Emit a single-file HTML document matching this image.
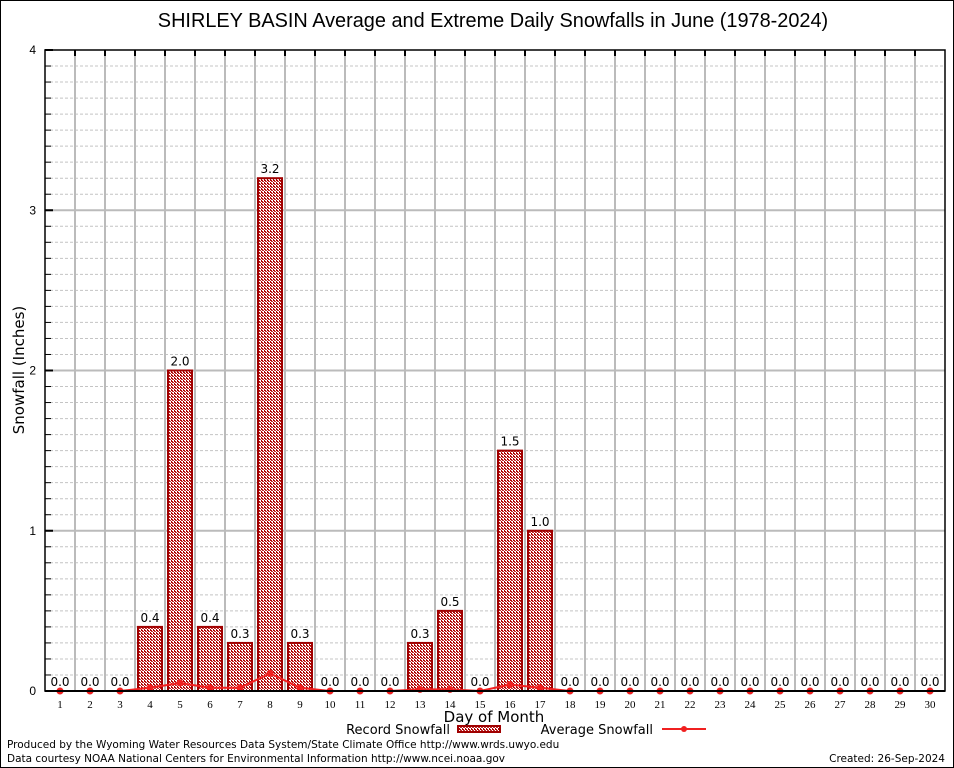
<!DOCTYPE html>
<html><head><meta charset="utf-8"><style>
body{margin:0;background:#fff}
svg{display:block;font-family:"DejaVu Sans","Liberation Sans",sans-serif}
</style></head><body>
<svg id="chart" width="954" height="768" viewBox="0 0 954 768">
<defs>
<pattern id="chk" width="3" height="3" patternUnits="userSpaceOnUse">
<rect width="3" height="3" fill="#fff"/>
<rect width="2" height="1" fill="#b00000"/><rect x="1" y="1" width="2" height="1" fill="#c03030"/><rect y="2" width="1" height="1" fill="#b00000"/>
</pattern>
</defs>
<rect x="0.5" y="0.5" width="953" height="767" fill="#fff" stroke="#000"/>
<text x="493" y="27" font-size="19.9" text-anchor="middle" font-family="Liberation Sans, sans-serif">SHIRLEY BASIN Average and Extreme Daily Snowfalls in June (1978-2024)</text>
<g id="grid"></g>
<g id="bars"></g>
<g id="avg"></g>
<g id="axes"></g>
<text x="24" y="370" font-size="15" text-anchor="middle" transform="rotate(-90 24 370)">Snowfall (Inches)</text>
<text x="494" y="722" font-size="15" text-anchor="middle">Day of Month</text>
<g>
<text x="450" y="734" font-size="13" text-anchor="end">Record Snowfall</text>
<rect x="458" y="726" width="42" height="6" fill="url(#chk)" stroke="#a00000" stroke-width="2"/>
</g>
<g>
<text x="653" y="734" font-size="13" text-anchor="end">Average Snowfall</text>
<line x1="662" y1="729" x2="706" y2="729" stroke="#f02020" stroke-width="2"/>
<circle cx="684" cy="729" r="3" fill="#f02020"/>
</g>
<text x="7" y="748" font-size="10.5">Produced by the Wyoming Water Resources Data System/State Climate Office http://www.wrds.uwyo.edu</text>
<text x="7" y="762" font-size="10.5">Data courtesy NOAA National Centers for Environmental Information http://www.ncei.noaa.gov</text>
<text x="945" y="762" font-size="10.5" text-anchor="end">Created:  26-Sep-2024</text>
</svg>
<script>
const days=[1,2,3,4,5,6,7,8,9,10,11,12,13,14,15,16,17,18,19,20,21,22,23,24,25,26,27,28,29,30];
const recordSnow=[0,0,0,0.4,2.0,0.4,0.3,3.2,0.3,0,0,0,0.3,0.5,0,1.5,1.0,0,0,0,0,0,0,0,0,0,0,0,0,0];
const avgSnow=[0,0,0,0.02,0.05,0.02,0.02,0.11,0.02,0,0,0,0.01,0.01,0,0.04,0.02,0,0,0,0,0,0,0,0,0,0,0,0,0];
const yTicks=[0,1,2,3,4];
const NS='http://www.w3.org/2000/svg';
const L=45,R=945,T=50,B=691,YMAX=4;
const xs=d=>L+(d-0.5)*(R-L)/days.length;
const ys=v=>B-v*(B-T)/YMAX;
function mk(tag,attrs,parent,txt){const e=document.createElementNS(NS,tag);for(const k in attrs)e.setAttribute(k,attrs[k]);if(txt!==undefined)e.textContent=txt;parent.appendChild(e);return e;}
const grid=document.getElementById('grid'),bars=document.getElementById('bars'),avg=document.getElementById('avg'),axes=document.getElementById('axes');
for(let i=1;i<YMAX*10;i++){if(i%10===0)continue;const y=ys(i/10);
const l=mk('line',{x1:L,x2:R,y1:y,y2:y,stroke:'#c4c4c4','stroke-dasharray':'3,2','stroke-width':1},grid);

mk('line',{x1:L,x2:L+6,y1:y,y2:y,stroke:'#000'},grid);}
for(let k=1;k<days.length;k++){const x=L+k*(R-L)/days.length;
const l=mk('line',{x1:x,x2:x,y1:T,y2:B,stroke:'#bbb','stroke-width':2},grid);

mk('line',{x1:x,x2:x,y1:T,y2:T+6,stroke:'#000','stroke-width':2},grid);}
yTicks.forEach(v=>{const y=ys(v);
if(v>0&&v<YMAX){const l=mk('line',{x1:L,x2:R,y1:y,y2:y,stroke:'#bbb','stroke-width':2},grid);}
mk('line',{x1:L,x2:L+8,y1:y,y2:y,stroke:'#000','stroke-width':2},axes);
const t=mk('text',{x:L-9,y:y+4,'font-size':12,'text-anchor':'end','font-family':'Liberation Sans, sans-serif'},axes,String(v));
});
days.forEach((d,i)=>{const v=recordSnow[i],x=xs(d);
if(v>0){const r=mk('rect',{x:x-12,y:ys(v),width:24,height:B-ys(v),fill:'url(#chk)',stroke:'#a00000','stroke-width':2},bars);
}
const t=mk('text',{x:x,y:ys(v)-5,'font-size':12,'text-anchor':'middle'},bars,v.toFixed(1));

const tl=mk('text',{x:x,y:B+17,'font-size':11,'text-anchor':'middle','font-family':'Liberation Serif, serif'},axes,String(d));
});
const pts=days.map((d,i)=>xs(d)+','+ys(avgSnow[i])).join(' ');
const pl=mk('polyline',{points:pts,fill:'none',stroke:'#f02020','stroke-width':2},avg);

days.forEach((d,i)=>{const c=mk('circle',{cx:xs(d),cy:ys(avgSnow[i]),r:3.5,fill:'#f02020'},avg);
});
mk('rect',{x:L,y:T,width:R-L,height:B-T,fill:'none',stroke:'#000','stroke-width':1.5},axes);
mk('line',{x1:L,x2:R,y1:B,y2:B,stroke:'#000','stroke-width':2},axes);
</script>
</body></html>
